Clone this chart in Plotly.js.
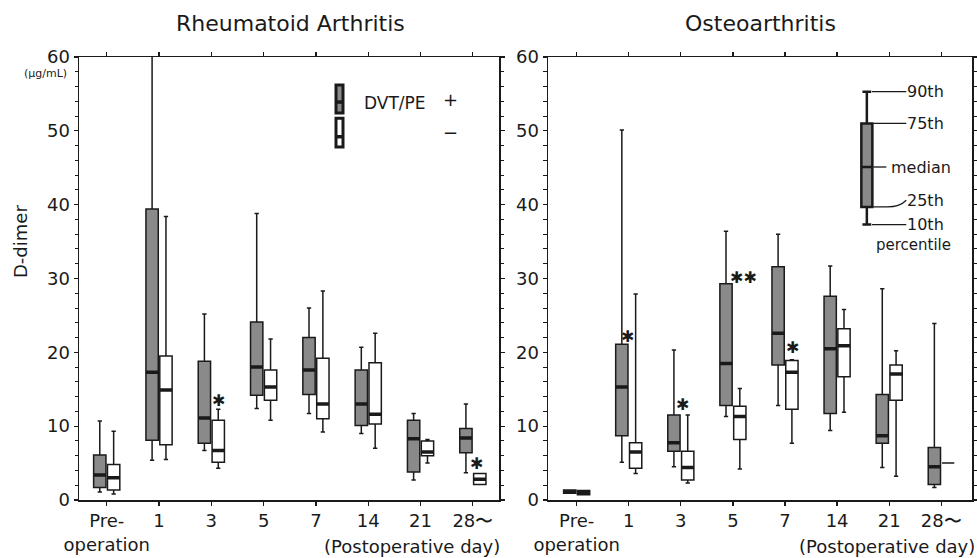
<!DOCTYPE html>
<html>
<head>
<meta charset="utf-8">
<script src="https://cdn.plot.ly/plotly-3.0.1.min.js"></script>
<style>html,body{margin:0;padding:0;background:#fff}#chart{width:977px;height:558px}</style>
</head>
<body>
<div id="chart"></div>
<script>
// ---------------- DATA ----------------
const categories = ['Pre-<br>operation', '1', '3', '5', '7', '14', '21', '28〜'];

// Rheumatoid arthritis, DVT/PE + (grey)
const raPosLow  = [1.1, 5.4, 6.7, 12.4, 11.7, 9.0, 2.7, 3.7];
const raPosQ1   = [1.7, 8.1, 7.7, 14.2, 14.3, 10.1, 3.8, 6.4];
const raPosMed  = [3.4, 17.3, 11.1, 18.0, 17.6, 13.0, 8.3, 8.4];
const raPosQ3   = [6.1, 39.4, 18.8, 24.1, 22.0, 17.6, 10.8, 9.7];
const raPosHigh = [10.7, 64.0, 25.2, 38.8, 26.0, 20.7, 11.7, 13.0];

// Rheumatoid arthritis, DVT/PE − (white)
const raNegLow  = [0.8, 5.5, 4.3, 10.8, 9.2, 7.0, 5.0, 2.1];
const raNegQ1   = [1.35, 7.5, 5.1, 13.5, 11.0, 10.3, 6.0, 2.1];
const raNegMed  = [3.0, 14.9, 6.7, 15.3, 13.0, 11.6, 6.5, 2.8];
const raNegQ3   = [4.8, 19.5, 10.8, 17.6, 19.2, 18.6, 8.0, 3.6];
const raNegHigh = [9.3, 38.4, 12.3, 21.8, 28.3, 22.6, 8.2, 3.6];

// Osteoarthritis, DVT/PE + (grey)
const oaPosLow  = [0.9, 5.1, 4.5, 11.3, 12.8, 9.4, 4.4, 1.7];
const oaPosQ1   = [0.9, 8.7, 6.6, 12.8, 18.3, 11.7, 7.7, 2.1];
const oaPosMed  = [1.1, 15.3, 7.75, 18.5, 22.6, 20.5, 8.7, 4.5];
const oaPosQ3   = [1.35, 21.1, 11.5, 29.3, 31.6, 27.6, 14.3, 7.1];
const oaPosHigh = [1.35, 50.1, 20.3, 36.4, 36.0, 31.7, 28.6, 23.9];

// Osteoarthritis, DVT/PE − (white)
const oaNegLow  = [0.7, 3.6, 2.3, 4.2, 7.7, 11.9, 3.2, 5.0];
const oaNegQ1   = [0.7, 4.3, 2.7, 8.2, 12.3, 16.7, 13.5, 5.0];
const oaNegMed  = [1.0, 6.5, 4.4, 11.3, 17.3, 20.9, 17.05, 5.0];
const oaNegQ3   = [1.3, 7.75, 6.6, 12.7, 18.9, 23.2, 18.3, 5.0];
const oaNegHigh = [1.3, 27.9, 11.5, 15.1, 19.0, 25.8, 20.2, 5.0];

// significance marks (category, height, label)
const raSigCats = ['3', '28〜'];
const raSigY    = [13.5, 5.0];
const raSigText = ['✱', '✱'];
const oaSigCats = ['1', '3', '5', '7'];
const oaSigY    = [22.1, 13.0, 30.2, 20.6];
const oaSigText = ['✱', '✱', '✱✱', '✱'];

// key (percentile illustration)
const keyLow = [37.3], keyQ1 = [39.7], keyMed = [45.1], keyQ3 = [51.0], keyHigh = [55.3];
const keyLabels = ['90th', '75th', 'median', '25th', '10th'];

// ---------------- STYLE / LAYOUT ----------------
const W = 977, H = 558, T = 57, B = 58;
const plotH = H - T - B;
const px = x => x / W;
const py = y => (H - B - y) / plotH;
const GREY = '#8a8a8a', INK = '#1a1a1a';
const FONT = 'DejaVu Sans, Liberation Sans, sans-serif';
const SIG_SHIFT = {ra: [7, 4], oa: [-1, 2, 11, 7]};

function boxTrace(xa, ya, q1, med, q3, lo, hi, fill, grp) {
  return {
    type: 'box', xaxis: xa, yaxis: ya, x: categories,
    q1: q1, median: med, q3: q3, lowerfence: lo, upperfence: hi,
    boxpoints: false, fillcolor: fill, offsetgroup: grp, alignmentgroup: 'a' + xa,
    line: {color: INK, width: 1.5}, whiskerwidth: 0.35,
    showlegend: false, hoverinfo: 'skip'
  };
}
function medianTrace(xa, ya, q1, med, q3, grp) {
  const idx = med.map((m, i) => i).filter(i => q3[i] > q1[i]);
  const m = idx.map(i => med[i]);
  return {
    type: 'box', xaxis: xa, yaxis: ya, x: idx.map(i => categories[i]),
    q1: m, median: m, q3: m, lowerfence: m, upperfence: m,
    boxpoints: false, fillcolor: INK, offsetgroup: grp, alignmentgroup: 'a' + xa,
    line: {color: INK, width: 3.5}, whiskerwidth: 0,
    showlegend: false, hoverinfo: 'skip'
  };
}

const data = [
  boxTrace('x', 'y', raPosQ1, raPosMed, raPosQ3, raPosLow, raPosHigh, GREY, 'pos'),
  boxTrace('x', 'y', raNegQ1, raNegMed, raNegQ3, raNegLow, raNegHigh, '#ffffff', 'neg'),
  medianTrace('x', 'y', raPosQ1, raPosMed, raPosQ3, 'pos'),
  medianTrace('x', 'y', raNegQ1, raNegMed, raNegQ3, 'neg'),
  boxTrace('x2', 'y2', oaPosQ1, oaPosMed, oaPosQ3, oaPosLow, oaPosHigh, GREY, 'pos'),
  boxTrace('x2', 'y2', oaNegQ1, oaNegMed, oaNegQ3, oaNegLow, oaNegHigh, '#ffffff', 'neg'),
  medianTrace('x2', 'y2', oaPosQ1, oaPosMed, oaPosQ3, 'pos'),
  medianTrace('x2', 'y2', oaNegQ1, oaNegMed, oaNegQ3, 'neg'),
  {
    type: 'box', xaxis: 'x3', yaxis: 'y2', x: [0.752],
    q1: keyQ1, median: keyMed, q3: keyQ3, lowerfence: keyLow, upperfence: keyHigh,
    width: 0.026, boxpoints: false, fillcolor: GREY,
    line: {color: INK, width: 2.5}, whiskerwidth: 0.8,
    showlegend: false, hoverinfo: 'skip'
  }
];

const yAxisBase = {
  range: [0, 60], dtick: 10, showgrid: false, zeroline: false,
  showline: true, linecolor: INK, linewidth: 1.5, mirror: 'allticks',
  ticks: 'outside', ticklen: 4, tickcolor: INK, tickwidth: 1.2,
  minor: {dtick: 2, ticks: 'outside', ticklen: 3, tickcolor: INK, tickwidth: 1},
  tickfont: {family: FONT, size: 18, color: INK}
};
const xAxisBase = {
  type: 'category', categoryorder: 'array', categoryarray: categories,
  showgrid: false, zeroline: false, showline: true, linecolor: INK, linewidth: 1.5,
  mirror: 'ticks', ticks: 'outside', ticklen: 4, tickcolor: INK, tickwidth: 1.2,
  tickfont: {family: FONT, size: 18, color: INK}
};

const annotations = [];
function ann(o) {
  annotations.push(Object.assign({showarrow: false, xanchor: 'center', yanchor: 'middle',
    font: {family: FONT, size: 18, color: INK}}, o));
}

ann({xref: 'paper', yref: 'paper', x: px(290), y: py(23), text: 'Rheumatoid Arthritis', font: {family: FONT, size: 22, color: INK}});
ann({xref: 'paper', yref: 'paper', x: px(760), y: py(23), text: 'Osteoarthritis', font: {family: FONT, size: 22, color: INK}});
ann({xref: 'paper', yref: 'paper', x: px(20), y: py(242), text: 'D-dimer', textangle: -90});
ann({xref: 'paper', yref: 'paper', x: px(45), y: py(73), text: '(μg/mL)', font: {family: FONT, size: 11, color: INK}});
ann({xref: 'paper', yref: 'paper', x: px(502), y: py(546), xanchor: 'right', text: '(Postoperative day)'});
ann({xref: 'paper', yref: 'paper', x: px(977), y: py(546), xanchor: 'right', text: '(Postoperative day)'});

const SIG_FONT = {family: 'DejaVu Sans', size: 16, color: INK};
raSigCats.forEach((c, i) => ann({xref: 'x', yref: 'y', x: categories.indexOf(c), y: raSigY[i],
  xshift: SIG_SHIFT.ra[i], text: raSigText[i], font: SIG_FONT}));
oaSigCats.forEach((c, i) => ann({xref: 'x2', yref: 'y2', x: categories.indexOf(c), y: oaSigY[i],
  xshift: SIG_SHIFT.oa[i], text: oaSigText[i], font: SIG_FONT}));

// left legend
ann({xref: 'paper', yref: 'y', x: px(395), y: 53.8, text: 'DVT/PE', font: {family: FONT, size: 17, color: INK}});
ann({xref: 'paper', yref: 'y', x: px(450), y: 54.2, text: '+', font: {family: FONT, size: 18, color: INK}});
ann({xref: 'paper', yref: 'y', x: px(450), y: 49.8, text: '−', font: {family: FONT, size: 18, color: INK}});

// key labels
const keyVals = [keyHigh[0], keyQ3[0], keyMed[0], keyQ1[0], keyLow[0]];
const keyLabelX = [0.842, 0.842, 0.805, 0.842, 0.842];
const keyLabelY = [keyVals[0], keyVals[1], keyVals[2], 40.6, keyVals[4]];
keyLabels.forEach((t, i) => ann({xref: 'x3', yref: 'y2', x: keyLabelX[i], y: keyLabelY[i], xanchor: 'left', text: t,
  font: {family: FONT, size: 16, color: INK}}));
ann({xref: 'x3', yref: 'y2', x: 0.862, y: 34.5, text: 'percentile', font: {family: FONT, size: 15, color: INK}});

const shapes = [];
// key leader lines
const keyLineX0 = [0.764, 0.767, 0.767, 0.767, 0.764];
const keyLineX1 = [0.845, 0.845, 0.798, 0.80, 0.845];
keyVals.forEach((v, i) => {
  if (i === 3) {
    shapes.push({type: 'path', xref: 'x3', yref: 'y2',
      path: `M ${keyLineX0[i]} ${v} L 0.80 ${v} Q 0.83 ${v} 0.845 ${keyLabelY[i]}`,
      line: {color: INK, width: 1.3}});
  } else {
    shapes.push({type: 'line', xref: 'x3', yref: 'y2', x0: keyLineX0[i], x1: keyLineX1[i], y0: v, y1: v,
      line: {color: INK, width: 1.3}});
  }
});
// left legend icons
shapes.push({type: 'rect', xref: 'paper', yref: 'y', x0: px(336), x1: px(343), y0: 52.4, y1: 56.2,
  fillcolor: GREY, line: {color: INK, width: 3}});
shapes.push({type: 'line', xref: 'paper', yref: 'y', x0: px(336), x1: px(343), y0: 53.9, y1: 53.9,
  line: {color: INK, width: 3.5}});
shapes.push({type: 'rect', xref: 'paper', yref: 'y', x0: px(336), x1: px(343), y0: 47.8, y1: 51.7,
  fillcolor: '#ffffff', line: {color: INK, width: 3}});
shapes.push({type: 'line', xref: 'paper', yref: 'y', x0: px(336), x1: px(343), y0: 49.2, y1: 49.2,
  line: {color: INK, width: 3.5}});

const layout = {
  width: W, height: H, margin: {l: 0, r: 0, t: T, b: B},
  paper_bgcolor: '#ffffff', plot_bgcolor: '#ffffff',
  showlegend: false, boxmode: 'group', boxgap: 0.47, boxgroupgap: 0.11,
  font: {family: FONT, color: INK},
  xaxis: Object.assign({}, xAxisBase, {domain: [px(79), px(499)], range: [-0.53, 7.5], anchor: 'y'}),
  yaxis: Object.assign({}, yAxisBase, {anchor: 'x'}),
  xaxis2: Object.assign({}, xAxisBase, {domain: [px(548), px(972)], range: [-0.55, 7.59], anchor: 'y2'}),
  yaxis2: Object.assign({}, yAxisBase, {anchor: 'x2'}),
  xaxis3: {overlaying: 'x2', anchor: 'y2', range: [0, 1], visible: false, showgrid: false, zeroline: false},
  annotations: annotations, shapes: shapes
};

Plotly.newPlot('chart', data, layout, {staticPlot: true});
</script>
</body>
</html>
